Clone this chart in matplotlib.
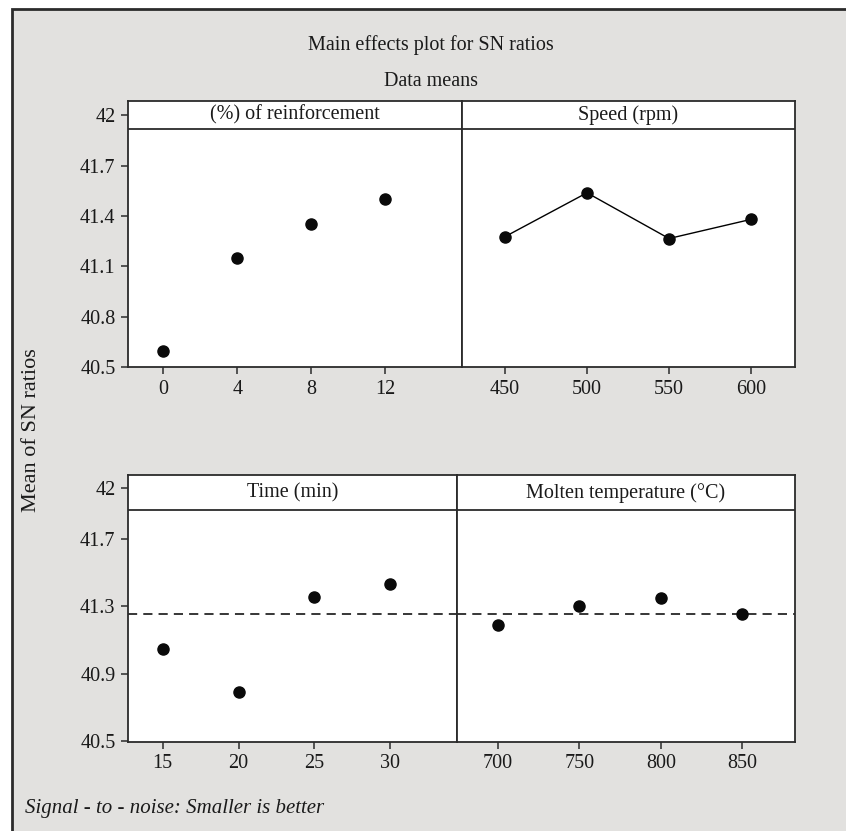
"""
Main effects plot for SN ratios (Minitab style, 2x2 panels with header strips).
"""
import matplotlib
matplotlib.use("Agg")
import matplotlib.pyplot as plt
from matplotlib.patches import Rectangle

# ----- data -----
reinf_levels = [0, 4, 8, 12]
reinf_sn = [40.594, 41.149, 41.352, 41.503]
speed_levels = [450, 500, 550, 600]
speed_sn = [41.277, 41.538, 41.266, 41.380]
time_levels = [15, 20, 25, 30]
time_sn = [41.046, 40.791, 41.354, 41.429]
temp_levels = [700, 750, 800, 850]
temp_sn = [41.190, 41.301, 41.350, 41.255]
overall_mean = 41.255

top_yticks = [40.5, 40.8, 41.1, 41.4, 41.7, 42]
top_yticklabels = ["40.5", "40.8", "41.1", "41.4", "41.7", "42"]
bottom_yticks = [40.5, 40.9, 41.3, 41.7, 42]
bottom_yticklabels = ["40.5", "40.9", "41.3", "41.7", "42"]

titles = ["(%) of reinforcement", "Speed (rpm)", "Time (min)", "Molten temperature (\u00b0C)"]

plt.rcParams["font.family"] = ["Liberation Serif", "DejaVu Serif"]
W, H = 846, 831
DARK = "#2b2b2b"
GREY = "#e2e1df"
TXT = "#1a1a1a"
FS = 14.5

fig = plt.figure(figsize=(W / 100, H / 100), dpi=100)
fig.patch.set_facecolor("white")
fig.patches.append(Rectangle((12 / W, -0.1), 1.2, 1.1 - 9 / H, transform=fig.transFigure,
                             facecolor=GREY, edgecolor=DARK, lw=2, zorder=-10))


def px_axes(x0, x1, y0, y1):
    # pixel box (top-left origin) -> figure axes
    return fig.add_axes([x0 / W, 1 - y1 / H, (x1 - x0) / W, (y1 - y0) / H])


# pixel layout of the four panels
ax_tl = px_axes(128, 462, 101, 367.3)
ax_tr = px_axes(462, 795, 101, 367.3)
ax_bl = px_axes(128, 456.7, 475.3, 741.7)
ax_br = px_axes(456.7, 795, 475.3, 741.7)

panels = [
    (ax_tl, reinf_levels, reinf_sn, (-1.91, 16.16), titles[0], False),
    (ax_tr, speed_levels, speed_sn, (423.8, 626.8), titles[1], True),
    (ax_bl, time_levels, time_sn, (12.71, 34.38), titles[2], False),
    (ax_br, temp_levels, temp_sn, (674.9, 882.3), titles[3], False),
]

for i, (ax, xs, ys, xlim, title, joined) in enumerate(panels):
    top_row = i < 2
    ylim = (40.5, 42.084) if top_row else (40.496, 42.076)
    header_y = 41.918 if top_row else 41.868
    ax.set_facecolor("white")
    ax.set_xlim(*xlim)
    ax.set_ylim(*ylim)
    if joined:
        ax.plot(xs, ys, "-", color="black", lw=1.0, zorder=3)
    ax.plot(xs, ys, "o", color="#0a0a0a", markersize=8, zorder=4)
    if not top_row:
        ax.axhline(overall_mean, color="black", lw=1.1, ls=(0, (6, 4)), zorder=2)
    ax.axhline(header_y, color=DARK, lw=1.3, zorder=5)
    ax.text(0.5, (header_y + ylim[1]) / 2, title, transform=ax.get_yaxis_transform(),
            ha="center", va="center", fontsize=FS, color=TXT)
    ax.set_xticks(xs)
    ax.set_xticklabels([str(v) for v in xs])
    for sp in ax.spines.values():
        sp.set_color(DARK)
        sp.set_linewidth(1.3)
    ax.tick_params(axis="x", direction="out", length=5, width=1.1, color=DARK,
                   labelsize=FS, pad=4, labelcolor=TXT)
    if i % 2 == 0:
        ax.set_yticks(top_yticks if top_row else bottom_yticks)
        ax.set_yticklabels(top_yticklabels if top_row else bottom_yticklabels)
        ax.tick_params(axis="y", direction="out", length=5, width=1.1, color=DARK,
                       labelsize=FS, pad=4, labelcolor=TXT)
    else:
        ax.set_yticks([])

fig.text(431 / W, 1 - 45 / H, "Main effects plot for SN ratios", ha="center", va="center",
         fontsize=FS, color=TXT)
fig.text(431 / W, 1 - 82 / H, "Data means", ha="center", va="center",
         fontsize=FS, color=TXT)
fig.text(31 / W, 1 - 430 / H, "Mean of SN ratios", rotation=90, ha="center", va="center",
         fontsize=16, color=TXT)
fig.text(25 / W, 1 - 808 / H, "Signal - to - noise: Smaller is better", ha="left", va="center",
         fontsize=15, style="italic", color=TXT)

fig.savefig("out.png", dpi=100)
